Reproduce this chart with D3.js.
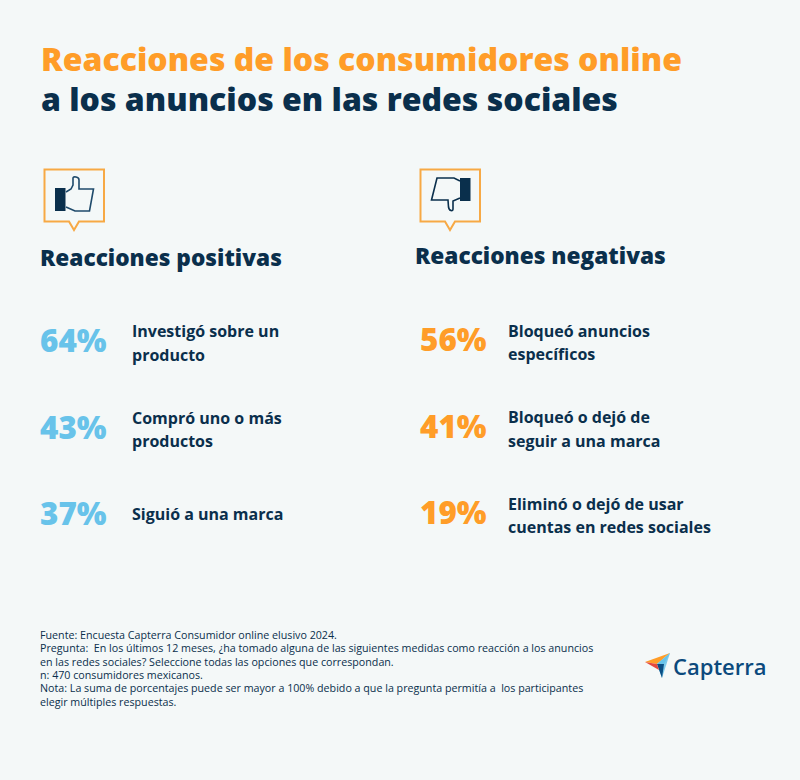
<!DOCTYPE html>
<html><head><meta charset="utf-8"><script src="https://cdn.jsdelivr.net/npm/d3@7"></script>
<style>html,body{margin:0;padding:0;background:#f4f8f8}svg{display:block}text{font-family:"Open Sans",sans-serif;white-space:pre}</style></head>
<body><svg id="c" width="800" height="780"></svg>
<script>
const titleLines = ["Reacciones de los consumidores online", "a los anuncios en las redes sociales"];
const positiveTitle = "Reacciones positivas";
const negativeTitle = "Reacciones negativas";
const positiveValues = [64, 43, 37];
const negativeValues = [56, 41, 19];
const positiveLabels = [["Investigó sobre un", "producto"], ["Compró uno o más", "productos"], ["Siguió a una marca"]];
const negativeLabels = [["Bloqueó anuncios", "específicos"], ["Bloqueó o dejó de", "seguir a una marca"], ["Eliminó o dejó de usar", "cuentas en redes sociales"]];
const footnotes = [
 "Fuente: Encuesta Capterra Consumidor online elusivo 2024.",
 "Pregunta:  En los últimos 12 meses, ¿ha tomado alguna de las siguientes medidas como reacción a los anuncios",
 "en las redes sociales? Seleccione todas las opciones que correspondan.",
 "n: 470 consumidores mexicanos.",
 "Nota: La suma de porcentajes puede ser mayor a 100% debido a que la pregunta permitía a  los participantes",
 "elegir múltiples respuestas."];

const NAVY="#0a2f4c", ORANGE="#ff9d28", BLUE="#68c3ea";
const svg=d3.select("#c");
svg.append("rect").attr("width",800).attr("height",780).attr("fill","#f4f8f8");

svg.selectAll("text.title").data(titleLines).join("text").attr("class","title")
 .attr("x",41).attr("y",(d,i)=>71+i*40).attr("font-size",32).attr("font-weight",800)
 .attr("fill",(d,i)=>i?NAVY:ORANGE).text(d=>d);

const rowY=d3.scalePoint().domain([0,1,2]).range([0,173]);

function column(x0,pctX,headY,head,vals,labs,color,rowTop,boxX,labelDy,thumb){
 svg.append("text").attr("x",x0).attr("y",headY).attr("font-size",22.65).attr("font-weight",800).attr("fill",NAVY).text(head);
 const g=svg.append("g").attr("transform",`translate(${boxX},169)`);
 g.append("path").attr("d","M0.5,0.5H60V52.5H35L30,61L25,52.5H0.5Z").attr("fill","none").attr("stroke","#f7a945").attr("stroke-width",2);
 thumb(g);
 const rows=svg.selectAll(null).data(vals).join("g").attr("transform",(d,i)=>`translate(0,${rowTop+rowY(i)})`);
 rows.append("text").attr("x",pctX).attr("y",0).attr("font-size",31.4).attr("font-weight",800).attr("fill",color).text(d=>d+"%");
 rows.each(function(d,i){
  const L=labs[i];
  d3.select(this).selectAll("text.l").data(L).join("text").attr("class","l")
   .attr("x",pctX+(x0===40?92:88)).attr("y",(t,j)=>(L.length===1?-5:labelDy)+j*23.6).attr("font-size",16).attr("font-weight",700).attr("fill",NAVY).text(t=>t);
 });
}
column(40,40,265.6,positiveTitle,positiveValues,positiveLabels,BLUE,352,44,-15,g=>{
 g.append("rect").attr("x",11).attr("y",19).attr("width",10.5).attr("height",23).attr("fill",NAVY);
 g.append("path").attr("d","M22,23L27,20L29,16V9Q29,7.5 32,8Q35,8.5 35,11V20H49.5L45.5,42H31L22,38").attr("fill","none").attr("stroke","#1f4a6b").attr("stroke-width",1.6);
});
column(415,420,263.6,negativeTitle,negativeValues,negativeLabels,ORANGE,351,420,-14.3,g=>{
 g.append("rect").attr("x",40).attr("y",9).attr("width",10.5).attr("height",23).attr("fill",NAVY);
 g.append("path").attr("d","M40,12L34,9H17L11.5,31H28L28.5,38Q29,41 31,41.5Q33,42 33,40V32L40,29").attr("fill","none").attr("stroke",NAVY).attr("stroke-width",1.6);
});

svg.selectAll("text.foot").data(footnotes).join("text").attr("class","foot")
 .attr("x",40).attr("y",(d,i)=>639+i*13.3).attr("font-size",10.7).attr("fill",NAVY).text(d=>d);

const logo=svg.append("g");
logo.append("path").attr("d","M645,662L670,653L657,664Z").attr("fill",ORANGE);
logo.append("path").attr("d","M657,664L670,653L664,664Z").attr("fill","#68c3ea");
logo.append("path").attr("d","M657,664L670,653L662,678Z").attr("fill","#68c3ea").attr("opacity",.85);
logo.append("path").attr("d","M657,664L664,664L662,678Z").attr("fill","#0b4f85");
logo.append("path").attr("d","M645,662L657,664L659,670Z").attr("fill","#e5483f");
logo.append("text").attr("x",673).attr("y",675).attr("font-size",22).attr("font-weight",600).attr("fill","#0b4a7d").text("Capterra");
</script></body></html>
